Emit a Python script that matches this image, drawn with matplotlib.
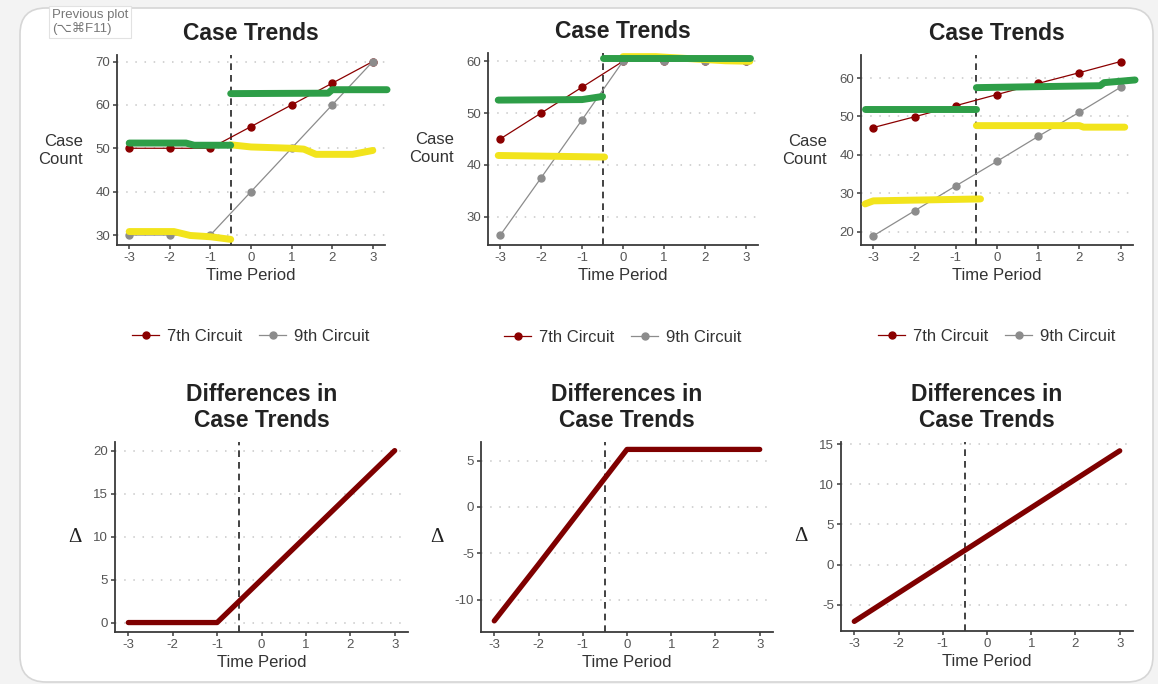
"""Case trends for three circuits, with the difference plots underneath"""

import matplotlib
matplotlib.use('Agg')
import matplotlib.pyplot as plt
from matplotlib.patches import FancyBboxPatch

plt.rcParams['font.family'] = ['Liberation Sans', 'DejaVu Sans']
plt.rcParams['axes.unicode_minus'] = False

W, H = 1158, 684

periods = [-3, -2, -1, 0, 1, 2, 3]
series_names = ['7th Circuit', '9th Circuit']

p1_7th = [50, 50, 50, 55, 60, 65, 70]
p1_9th = [30, 30, 30, 40, 50, 60, 70]
p2_7th = [45, 50, 55, 60, 60, 60, 60]
p2_9th = [26.4, 37.5, 48.7, 60, 60, 60, 60]
p3_7th = [47.1, 49.9, 52.8, 55.7, 58.6, 61.4, 64.3]
p3_9th = [18.9, 25.4, 31.9, 38.3, 44.8, 51.1, 57.6]

diff1 = [0, 0, 0, 5, 10, 15, 20]
diff2 = [-12.3, -6.2, 0, 6.2, 6.2, 6.2, 6.2]
diff3 = [-7.1, -3.55, 0, 3.55, 7.1, 10.65, 14.2]

# hand drawn highlighter strokes on top of the plots: (x, y) pairs
p1_green = [([-3, -1.6, -1.4, -0.5], [51.2, 51.2, 50.7, 50.7]),
            ([-0.5, 1.9, 2.0, 3.35], [62.6, 62.7, 63.5, 63.5])]
p1_yellow = [([-3, -1.9, -1.5, -1.0, -0.5], [30.8, 30.8, 29.9, 29.6, 29.0]),
             ([-0.5, 0, 1.0, 1.3, 1.6, 2.5, 3.0], [50.8, 50.3, 50.0, 49.8, 48.6, 48.6, 49.5])]
p2_green = [([-3.05, -1.0, -0.5], [52.5, 52.6, 53.2]),
            ([-0.5, 3.1], [60.7, 60.7])]
p2_yellow = [([-3.05, -0.45], [41.8, 41.5]),
             ([0.0, 0.8, 2.5, 3.1], [60.9, 60.9, 60.1, 60.0])]
p3_green = [([-3.2, -0.5], [52.0, 52.0]),
            ([-0.5, 2.5, 2.6, 3.35], [57.5, 58.0, 58.8, 59.5])]
p3_yellow = [([-3.2, -3.0, -0.4], [27.2, 28.0, 28.5]),
             ([-0.5, 2.0, 2.1, 3.1], [47.6, 47.6, 47.2, 47.2])]

red = '#8B0000'
grey = '#8C8C8C'
green = '#2E9E48'
yellow = '#F2E41C'
axis_col = '#3A3A3A'


def ax_at(fig, left, top, right, bottom):
    return fig.add_axes([left / W, 1 - bottom / H, (right - left) / W, (bottom - top) / H])


def style_axes(ax, ylim, yticks):
    ax.set_facecolor('none')
    ax.set_xlim(-3.3, 3.3)
    ax.set_ylim(*ylim)
    ax.set_xticks(periods)
    ax.set_xticklabels([str(p) for p in periods])
    ax.set_yticks(yticks)
    for s in ('top', 'right'):
        ax.spines[s].set_visible(False)
    for s in ('left', 'bottom'):
        ax.spines[s].set_color(axis_col)
        ax.spines[s].set_linewidth(1.3)
    ax.tick_params(length=3, width=1.1, color=axis_col, labelsize=9.5,
                   labelcolor='#555555', pad=2)
    ax.grid(axis='y', color='#C8C8C8', linestyle=(0, (1, 5)), linewidth=1.1)
    ax.set_axisbelow(True)
    ax.axvline(-0.5, color='#222222', linestyle=(0, (4, 3)), linewidth=1.2, zorder=2)
    ax.set_xlabel('Time Period', fontsize=12, color='#333333', labelpad=3)


def top_panel(fig, box, y7, y9, greens, yellows, ylim, yticks):
    ax = ax_at(fig, *box)
    style_axes(ax, ylim, yticks)
    ax.plot(periods, y7, color=red, lw=0.9, marker='o', ms=5, label=series_names[0], zorder=3)
    ax.plot(periods, y9, color=grey, lw=0.9, marker='o', ms=5, label=series_names[1], zorder=3)
    for xs, ys in yellows:
        ax.plot(xs, ys, color=yellow, lw=5, solid_capstyle='round', zorder=4, clip_on=False)
    for xs, ys in greens:
        ax.plot(xs, ys, color=green, lw=5, solid_capstyle='round', zorder=5, clip_on=False)
    ax.set_title('Case Trends', fontsize=16.5, fontweight='bold', color='#222222', pad=11)
    ax.set_ylabel('Case\nCount', rotation=0, ha='right', va='center', fontsize=12,
                  color='#333333', labelpad=9, linespacing=1.25)
    ax.legend(loc='center', bbox_to_anchor=(0.5, -0.48), ncol=2, frameon=False,
              fontsize=12, handlelength=1.6, columnspacing=1.0, handletextpad=0.5,
              labelcolor='#333333')
    return ax


def diff_panel(fig, box, ydiff, ylim, yticks):
    ax = ax_at(fig, *box)
    style_axes(ax, ylim, yticks)
    ax.plot(periods, ydiff, color='#7F0000', lw=3.8, solid_capstyle='round', zorder=3)
    ax.set_title('Differences in\nCase Trends', fontsize=16.5, fontweight='bold',
                 color='#222222', pad=11, linespacing=1.15)
    ax.set_ylabel('\u0394', rotation=0, ha='right', va='center', fontsize=15,
                  family=['Liberation Serif', 'DejaVu Serif'], color='#222222', labelpad=8)
    return ax


fig = plt.figure(figsize=(W / 100, H / 100), dpi=100, facecolor='#F3F3F3')

# the rounded white plot pane of the viewer window
pane = FancyBboxPatch((20, 2), 1133, H - 10,
                      boxstyle='round,pad=0,rounding_size=26',
                      transform=None, facecolor='white',
                      edgecolor='#D6D6D6', linewidth=1.2, zorder=-10)
fig.patches.append(pane)

top_panel(fig, (117, 55, 385, 245), p1_7th, p1_9th, p1_green, p1_yellow,
          (27.7, 71.5), [30, 40, 50, 60, 70])
top_panel(fig, (488, 53, 758, 245), p2_7th, p2_9th, p2_green, p2_yellow,
          (24.5, 61.6), [30, 40, 50, 60])
top_panel(fig, (861, 55, 1133, 245), p3_7th, p3_9th, p3_green, p3_yellow,
          (16.5, 66.0), [20, 30, 40, 50, 60])

diff_panel(fig, (115, 442, 408, 632), diff1, (-1.1, 21.0), [0, 5, 10, 15, 20])
diff_panel(fig, (481, 442, 773, 632), diff2, (-13.5, 7.0), [-10, -5, 0, 5])
diff_panel(fig, (841, 442, 1133, 631), diff3, (-8.3, 15.3), [-5, 0, 5, 10, 15])

# tooltip left over from the viewer
fig.text(52 / W, 1 - 9 / H, 'Previous plot\n(\u2325\u2318F11)', ha='left', va='top',
         fontsize=9.5, color='#777777', linespacing=1.15,
         family=['Liberation Sans', 'DejaVu Sans'],
         bbox=dict(boxstyle='square,pad=0.2', facecolor='white', edgecolor='#E2E2E2', lw=0.8))

fig.savefig('out.png', dpi=100, facecolor=fig.get_facecolor())
